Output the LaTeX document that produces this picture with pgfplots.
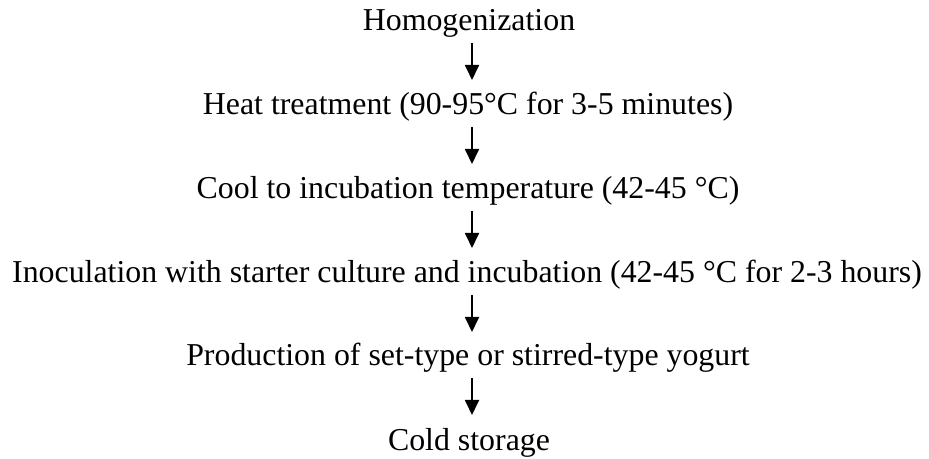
\documentclass[border=0pt]{standalone}
\usepackage{pgfplots}
\pgfplotsset{compat=1.18}
\usepackage{fontspec}
\setmainfont{Liberation Serif}
\usetikzlibrary{arrows.meta}
\begin{document}
\begin{tikzpicture}
\begin{axis}[
  x=1bp, y=1bp, y dir=reverse,
  xmin=0, xmax=929, ymin=0, ymax=459,
  hide axis, clip=false,
]
\path[use as bounding box] (axis cs:0,0) rectangle (axis cs:929,459);
\addplot[quiver={u=0,v=\thisrow{v}}, line width=1.8bp,
  -{Triangle[width=14bp,length=15bp]}, black] table {
x y v
472 43 37
472 127 37
472 211 37
472 295 37
472 378 37
};
\node[anchor=base, inner sep=0pt, font=\fontsize{31.85bp}{34bp}\selectfont] at (axis cs:469,31) {Homogenization};
\node[anchor=base, inner sep=0pt, font=\fontsize{31.85bp}{34bp}\selectfont] at (axis cs:468,115) {Heat treatment (90-95°C for 3-5 minutes)};
\node[anchor=base, inner sep=0pt, font=\fontsize{31.85bp}{34bp}\selectfont] at (axis cs:468,199) {Cool to incubation temperature (42-45 °C)};
\node[anchor=base, inner sep=0pt, font=\fontsize{31.85bp}{34bp}\selectfont] at (axis cs:467,283) {Inoculation with starter culture and incubation (42-45 °C for 2-3 hours)};
\node[anchor=base, inner sep=0pt, font=\fontsize{31.85bp}{34bp}\selectfont] at (axis cs:468,366) {Production of set-type or stirred-type yogurt};
\node[anchor=base, inner sep=0pt, font=\fontsize{31.85bp}{34bp}\selectfont] at (axis cs:469,450) {Cold storage};
\end{axis}
\end{tikzpicture}
\end{document}
